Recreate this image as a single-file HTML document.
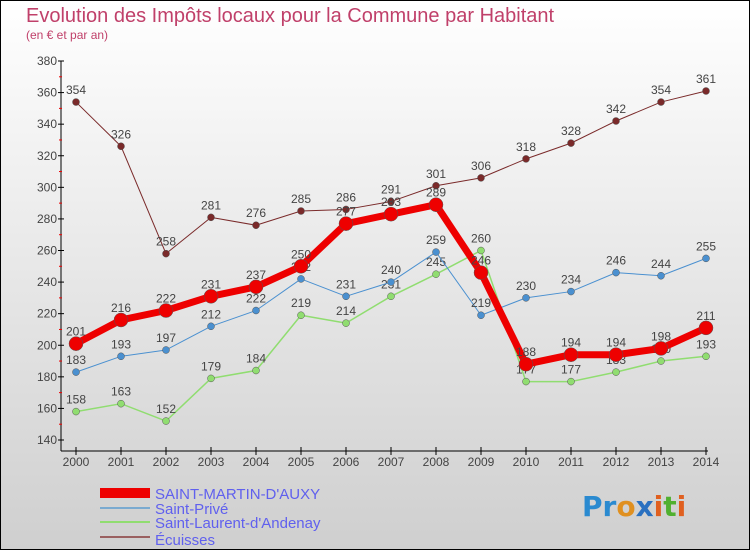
<!DOCTYPE html>
<html><head><meta charset="utf-8"><style>
body{margin:0}
#c{width:750px;height:550px;position:relative;background:linear-gradient(#ffffff,#cfcfcf);box-sizing:border-box;border:1px solid #000;overflow:hidden;font-family:"Liberation Sans",sans-serif}
</style></head><body>
<div id="c">
<svg id="s" width="750" height="550" style="position:absolute;left:-1px;top:-1px">
<text x="26" y="22" font-size="20" fill="#c0406a">Evolution des Impôts locaux pour la Commune par Habitant</text>
<text x="26" y="39" font-size="12" fill="#c0406a">(en € et par an)</text>
<g id="axes"></g><g id="series"></g>
<g>
<rect x="100" y="488" width="50" height="10" fill="#ee0000"/>
<text x="155" y="499" font-size="15" fill="#6060ee">SAINT-MARTIN-D'AUXY</text>
<rect x="100" y="507" width="50" height="2" fill="#7aaad0"/>
<text x="155" y="514" font-size="15" fill="#6060ee">Saint-Privé</text>
<rect x="100" y="521" width="50" height="2" fill="#90dd70"/>
<text x="155" y="528" font-size="15" fill="#6060ee">Saint-Laurent-d'Andenay</text>
<rect x="100" y="536" width="50" height="2" fill="#9a6060"/>
<text x="155" y="545" font-size="15" fill="#6060ee">Écuisses</text>
</g>
<g font-size="28" font-weight="bold" font-family="'DejaVu Sans',sans-serif">
<text x="582" y="516"><tspan fill="#2a8ad0">P</tspan><tspan fill="#2a8ad0">r</tspan><tspan fill="#e09020">o</tspan><tspan fill="#2a70c0">x</tspan><tspan fill="#e06020">i</tspan><tspan fill="#50b030">t</tspan><tspan fill="#e06020">i</tspan></text>
</g>
</svg>
</div>
<script>
const years=[2000,2001,2002,2003,2004,2005,2006,2007,2008,2009,2010,2011,2012,2013,2014];
const yTicks=[140,160,180,200,220,240,260,280,300,320,340,360,380];
const smaVals=[201,216,222,231,237,250,277,283,289,246,188,194,194,198,211];
const spVals=[183,193,197,212,222,242,231,240,259,219,230,234,246,244,255];
const slaVals=[158,163,152,179,184,219,214,231,245,260,177,177,183,190,193];
const ecuVals=[354,326,258,281,276,285,286,291,301,306,318,328,342,354,361];
const NS="http://www.w3.org/2000/svg";
const xs=i=>76+i*(706-76)/14;
const ys=v=>440-(v-140)*(440-61)/240;
function mk(t,a,p){const e=document.createElementNS(NS,t);for(const k in a)e.setAttribute(k,a[k]);p.appendChild(e);return e;}
const ax=document.getElementById('axes');
const yl=mk('line',{x1:61,y1:61,x2:61,y2:451,stroke:'#000'},ax);


const xl=mk('line',{x1:61,y1:451,x2:708,y2:451,stroke:'#000'},ax);


yTicks.forEach((v,i)=>{const y=ys(v);
mk('line',{x1:58,y1:y,x2:64,y2:y,stroke:'#000'},ax);
if(i<yTicks.length-1)mk('line',{x1:59,y1:ys(v+10),x2:62,y2:ys(v+10),stroke:'#e00'},ax);
const t=mk('text',{x:57,y:y+4,'font-size':12,fill:'#444','text-anchor':'end'},ax);t.textContent=v;

});
years.forEach((yr,i)=>{const x=xs(i);
mk('line',{x1:x,y1:447,x2:x,y2:455,stroke:'#000'},ax);
const t=mk('text',{x:x,y:466,'font-size':12,fill:'#444','text-anchor':'middle'},ax);t.textContent=yr;

});
const sg=document.getElementById('series');
function series(vals,color,w,r,name){
const g=mk('g',{},sg);


mk('polyline',{points:vals.map((v,i)=>xs(i)+','+ys(v)).join(' '),fill:'none',stroke:color,'stroke-width':w,'stroke-linejoin':'round'},g);
vals.forEach((v,i)=>{const c=mk('circle',{cx:xs(i),cy:ys(v),r:r,fill:color,stroke:'#555','stroke-width':0.5},g);


const t=mk('text',{x:xs(i),y:ys(v)-8,'font-size':12,fill:'#444','text-anchor':'middle'},g);t.textContent=v;

});
}
series(ecuVals,'#7a2a2a',1,3.5,'series-ecuisses');
series(slaVals,'#90dd70',1.5,3.5,'series-saint-laurent');
series(spVals,'#4a90d0',1,3.5,'series-saint-prive');
series(smaVals,'#ee0000',7,7,'series-saint-martin');
</script>
</body></html>
